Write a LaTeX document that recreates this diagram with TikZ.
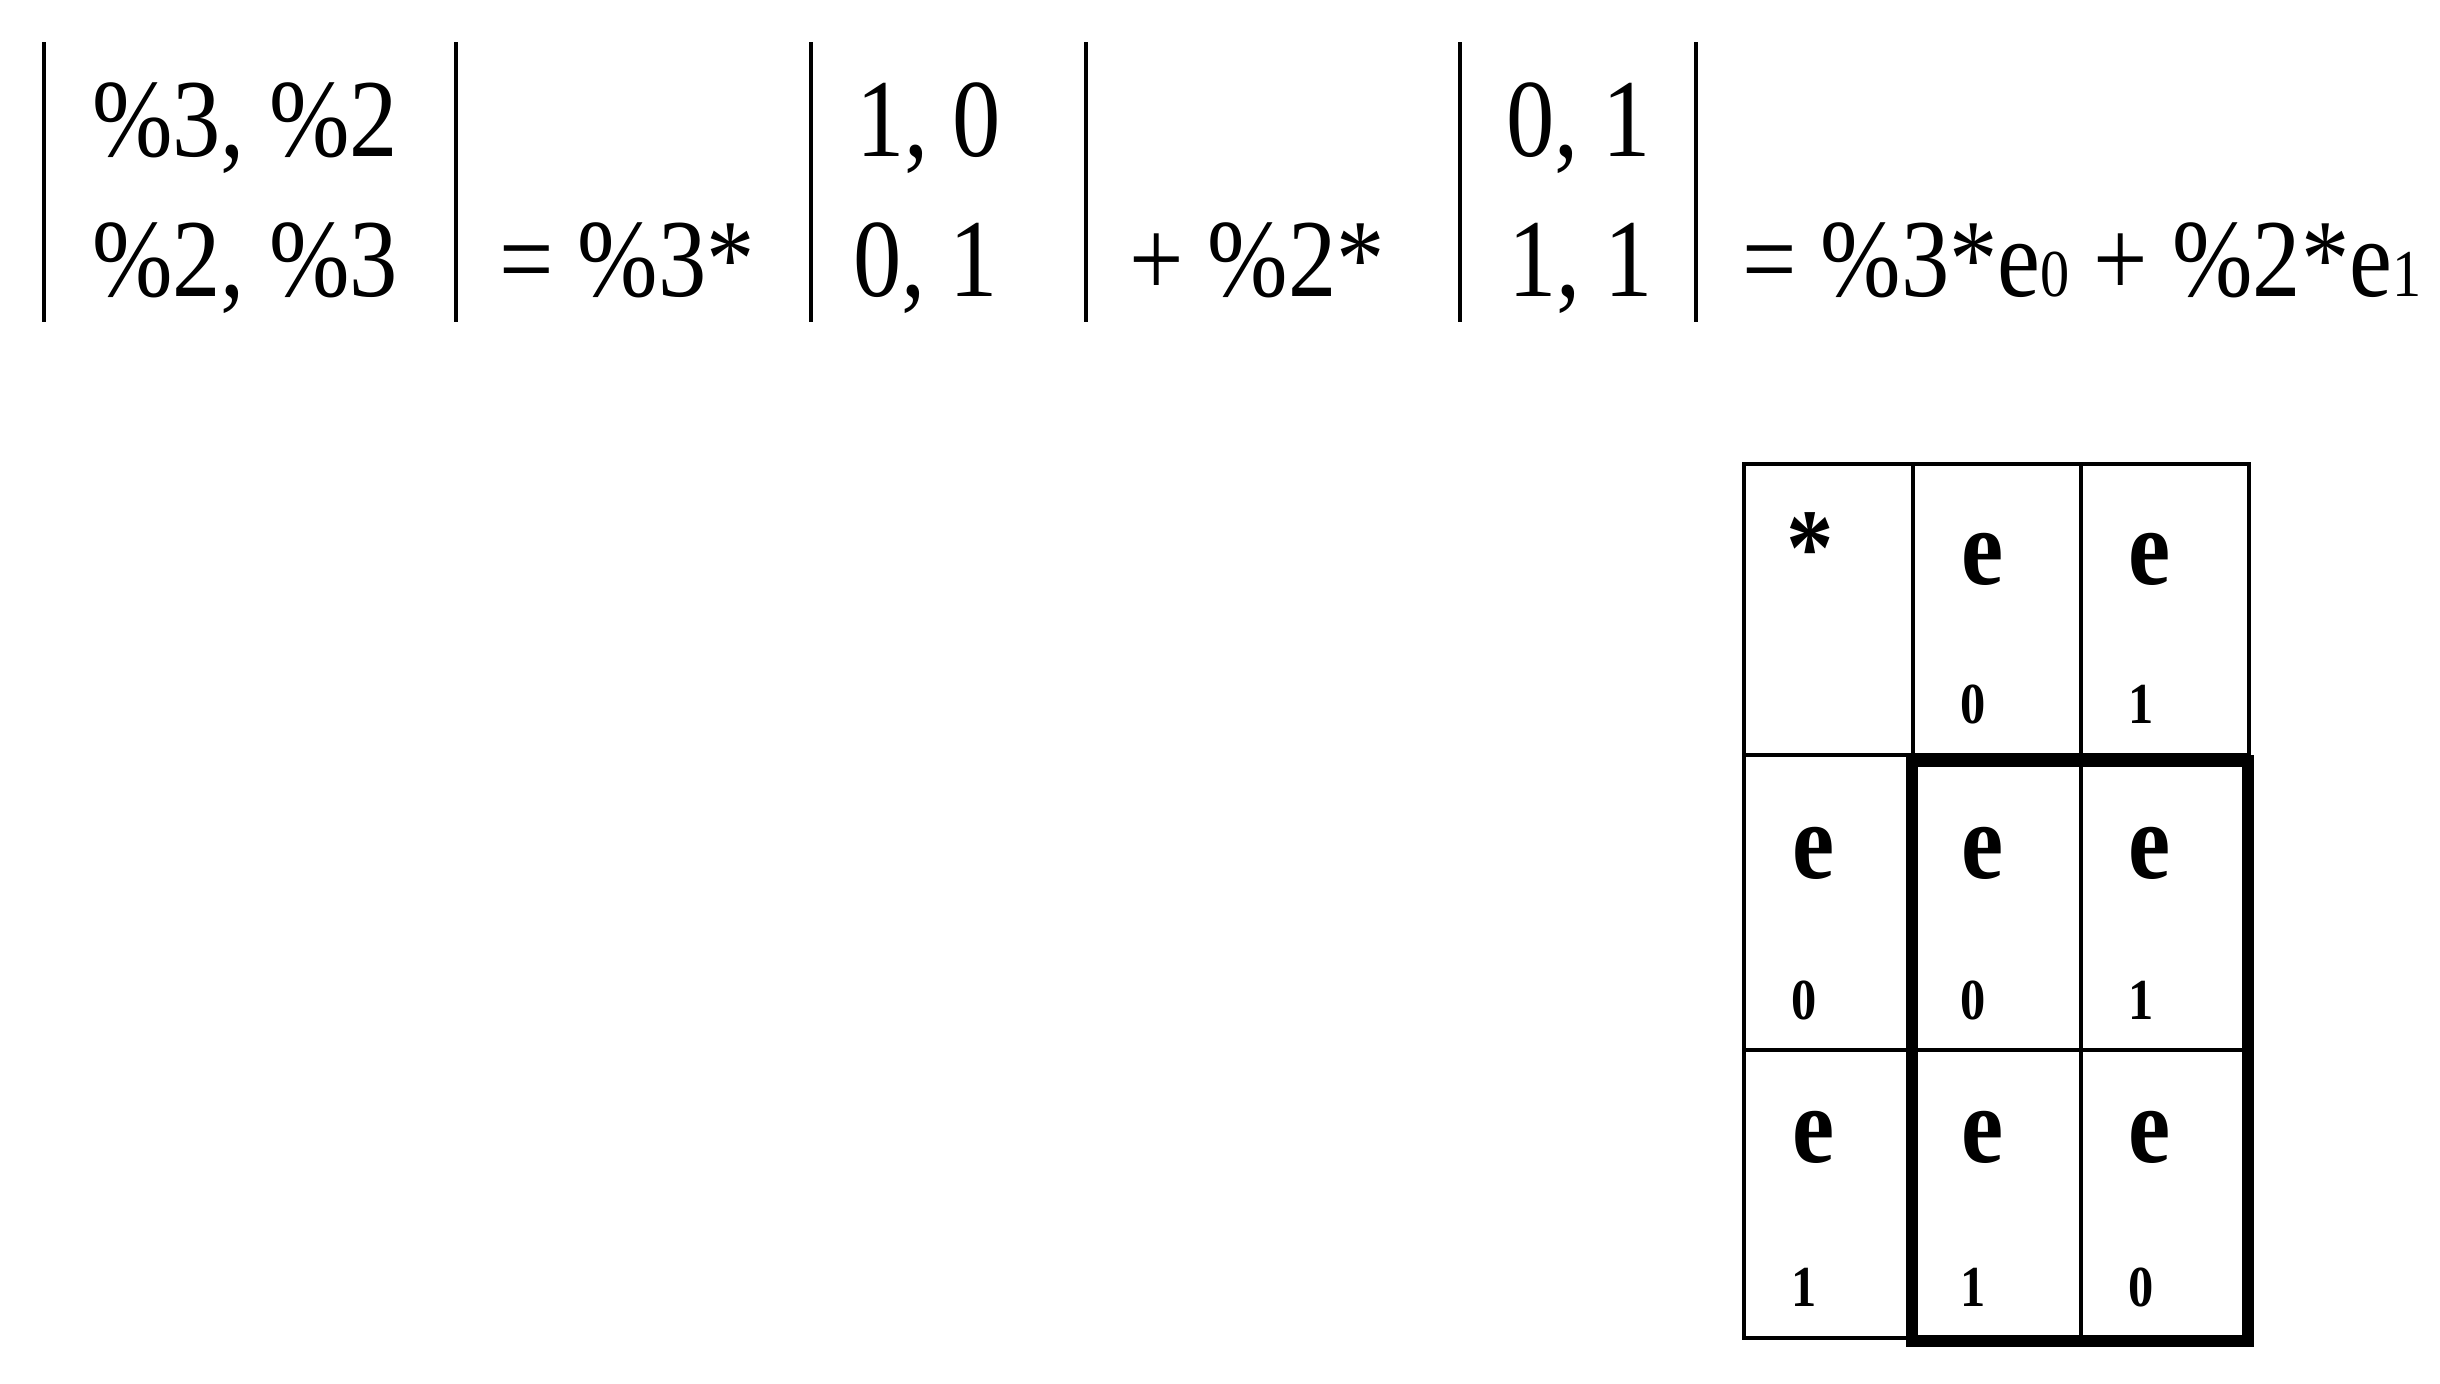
\documentclass[tikz,border=0pt]{standalone}
\usepackage{fontspec}
\setmainfont{Liberation Serif}[FakeStretch=0.87]
\newcommand{\lowdigit}[1]{{\fontsize{6.7mm}{8mm}\selectfont #1}}
\begin{document}
\begin{tikzpicture}[x=0.1mm, y=-0.1mm,
		every node/.style={inner sep=0pt, outer sep=0pt},
		big/.style={anchor=base west, font=\fontsize{11.1mm}{13mm}\selectfont},
		bar/.style={line width=0.45mm},
		grid/.style={line width=0.4mm},
		ee/.style={anchor=base, font=\fontsize{10.9mm}{12mm}\selectfont\bfseries},
		idx/.style={anchor=base, font=\fontsize{5.8mm}{7mm}\selectfont\bfseries}]
		\useasboundingbox (0,0) rectangle (2440,1383);

		% the sum of the two basis matrices
		\draw [bar] (44,42) -- (44,322);
		\draw [bar] (456,42) -- (456,322);
		\draw [bar] (811,42) -- (811,322);
		\draw [bar] (1086,42) -- (1086,322);
		\draw [bar] (1460,42) -- (1460,322);
		\draw [bar] (1696,42) -- (1696,322);

		\node [big] at (92,156) (m11) {\%3, \%2};
		\node [big] at (92,296) (m21) {\%2, \%3};
		\node [big] at (499,296) (k3) {= \%3*};
		\node [big] at (856,156) (a11) {1, 0};
		\node [big] at (853,296) (a21) {0, 1};
		\node [big] at (1129,296) (k2) {+ \%2*};
		\node [big] at (1506,156) (b11) {0, 1};
		\node [big] at (1508,296) (b21) {1, 1};
		\node [big] at (1742,296) (res) {= \%3*e\lowdigit{0} + \%2*e\lowdigit{1}};

		% multiplication table
		\draw [grid] (1744,464) rectangle (2249,1338);
		\draw [grid] (1913,464) -- (1913,1338);
		\draw [grid] (2081,464) -- (2081,1338);
		\draw [grid] (1744,755) -- (2249,755);
		\draw [grid] (1744,1050) -- (2249,1050);
		\draw [line width=1.2mm] (1912,761) rectangle (2248,1341);

		\node [ee] at (1810,584) (star) {*};
		\node [ee] at (1983,584) (h0) {e};
		\node [idx] at (1973,723) (h0i) {0};
		\node [ee] at (2150,584) (h1) {e};
		\node [idx] at (2141,723) (h1i) {1};

		\node [ee] at (1814,878) (r0) {e};
		\node [idx] at (1804,1019) (r0i) {0};
		\node [ee] at (1983,878) (c00) {e};
		\node [idx] at (1973,1019) (c00i) {0};
		\node [ee] at (2150,878) (c01) {e};
		\node [idx] at (2141,1019) (c01i) {1};

		\node [ee] at (1814,1162) (r1) {e};
		\node [idx] at (1804,1306) (r1i) {1};
		\node [ee] at (1983,1162) (c10) {e};
		\node [idx] at (1973,1306) (c10i) {1};
		\node [ee] at (2150,1162) (c11) {e};
		\node [idx] at (2141,1306) (c11i) {0};
	\end{tikzpicture}
\end{document}
